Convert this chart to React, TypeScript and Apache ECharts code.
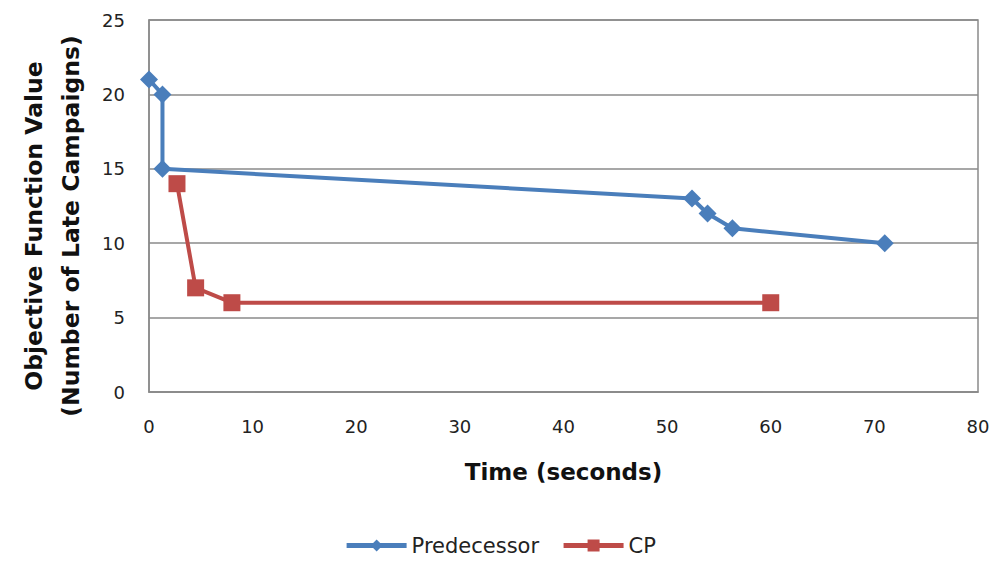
import React, { useEffect, useRef } from "react";
import * as echarts from "echarts";

const predecessorTime = [0, 1.3, 1.3, 52.4, 53.9, 56.3, 71];
const predecessorValue = [21, 20, 15, 13, 12, 11, 10];
const cpTime = [2.7, 4.5, 8.0, 60];
const cpValue = [14, 7, 6, 6];
const seriesNames = ["Predecessor", "CP"];

const FONT = "'DejaVu Sans', 'Noto Sans', sans-serif";

export default function App() {
  const ref = useRef<HTMLDivElement>(null);
  useEffect(() => {
    if (!ref.current) return;
    const chart = echarts.init(ref.current, null, { renderer: "svg" });
    chart.setOption({
      animation: false,
      backgroundColor: "#ffffff",
      grid: {
        left: 149,
        right: 22,
        top: 20,
        bottom: 174,
        show: true,
        borderColor: "#8a8a8a",
        borderWidth: 1.5,
        outerBoundsMode: "none",
        containLabel: false,
      },
      legend: {
        bottom: 5,
        left: "center",
        itemWidth: 60,
        itemHeight: 15,
        itemGap: 22,
        lineStyle: { width: 5 },
        textStyle: { fontFamily: FONT, fontSize: 21, color: "#222" },
        data: seriesNames,
      },
      xAxis: {
        type: "value",
        min: 0,
        max: 80,
        interval: 10,
        name: "Time (seconds)",
        nameLocation: "middle",
        nameGap: 68,
        nameTextStyle: { fontFamily: FONT, fontSize: 23, fontWeight: "bold", color: "#111" },
        axisLine: { lineStyle: { color: "#8a8a8a", width: 1.5 } },
        axisTick: { show: false },
        axisLabel: { fontFamily: FONT, fontSize: 18, color: "#222", margin: 25 },
        splitLine: { show: false },
      },
      yAxis: {
        type: "value",
        min: 0,
        max: 25,
        interval: 5,
        name: "Objective Function Value\n(Number of Late Campaigns)",
        nameLocation: "middle",
        nameGap: 60,
        nameTextStyle: {
          fontFamily: FONT,
          fontSize: 23.5,
          fontWeight: "bold",
          color: "#111",
          lineHeight: 37,
          padding: [0, 40, 0, 0],
        },
        axisLine: { show: true, lineStyle: { color: "#8a8a8a", width: 1.5 } },
        axisTick: { show: false },
        axisLabel: { fontFamily: FONT, fontSize: 18, color: "#222", margin: 24 },
        splitLine: { show: true, lineStyle: { color: "#8a8a8a", width: 1.5 } },
      },
      series: [
        {
          name: seriesNames[0],
          type: "line",
          data: predecessorTime.map((t, i) => [t, predecessorValue[i]]),
          symbol: "diamond",
          symbolSize: 18,
          lineStyle: { color: "#4a7ebb", width: 4 },
          itemStyle: { color: "#4a7ebb" },
        },
        {
          name: seriesNames[1],
          type: "line",
          data: cpTime.map((t, i) => [t, cpValue[i]]),
          symbol: "rect",
          symbolSize: 17,
          lineStyle: { color: "#be4b48", width: 4 },
          itemStyle: { color: "#be4b48" },
        },
      ],
    });
    return () => chart.dispose();
  }, []);
  return <div ref={ref} style={{ width: 1000, height: 566, position: "absolute", left: 0, top: 0 }} />;
}
